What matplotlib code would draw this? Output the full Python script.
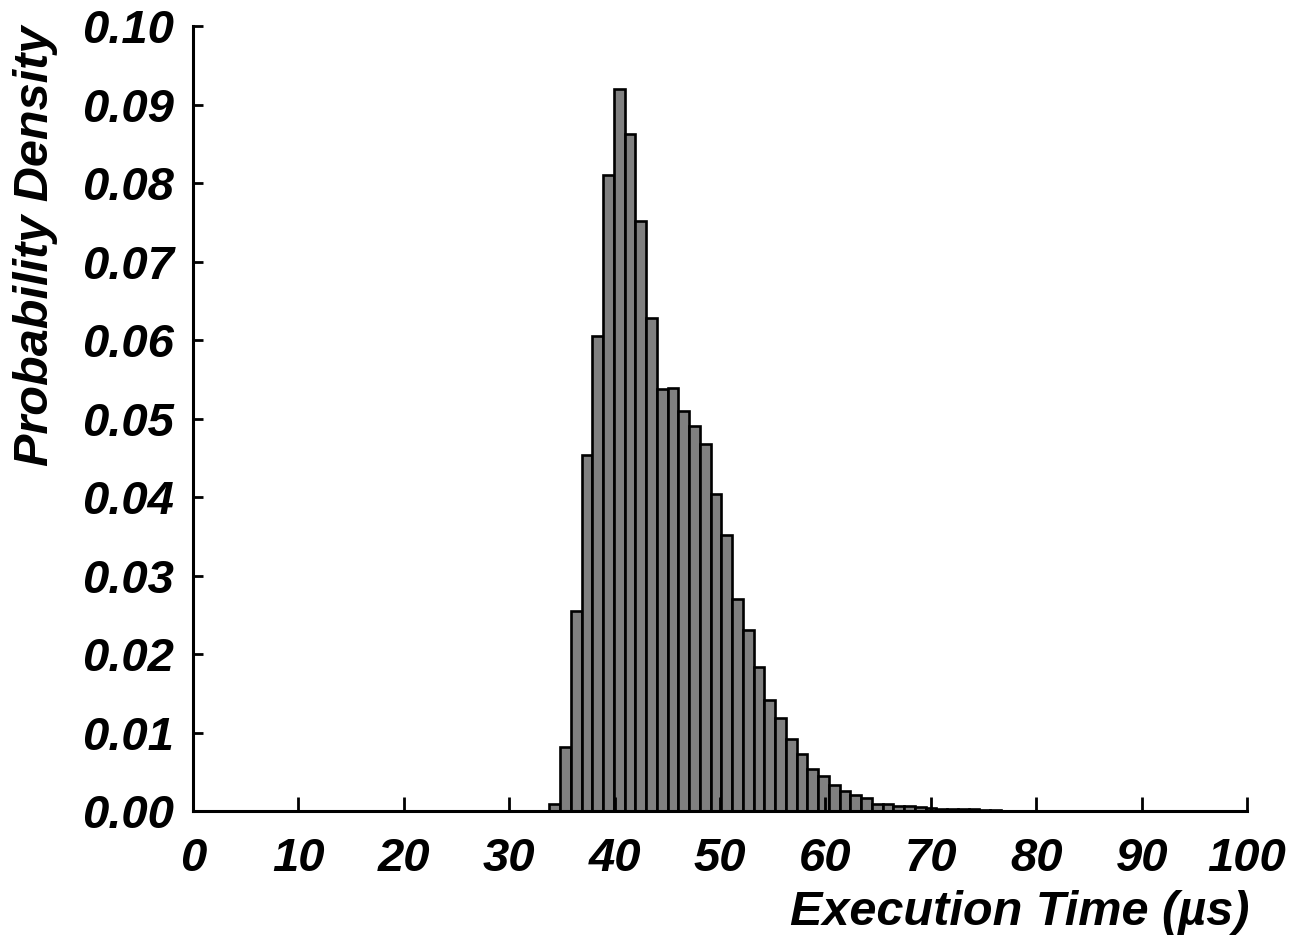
import matplotlib.pyplot as plt
import numpy as np

# histogram of execution times (bin width ~1 us)
bin_start = 33.8
bin_width = 1.02
density = [0.0009, 0.0082, 0.0255, 0.0453, 0.0605, 0.0810, 0.0920, 0.0862,
           0.0751, 0.0628, 0.0537, 0.0539, 0.0509, 0.0490, 0.0468, 0.0404,
           0.0352, 0.0270, 0.0231, 0.0184, 0.0142, 0.0119, 0.0092, 0.0073,
           0.0054, 0.0045, 0.0033, 0.0025, 0.0021, 0.0016, 0.0009, 0.0009,
           0.0007, 0.0006, 0.0005, 0.0004, 0.0003, 0.0003, 0.0002, 0.0002,
           0.0001, 0.0001]

x_ticks = list(range(0, 101, 10))
y_ticks = [0.00, 0.01, 0.02, 0.03, 0.04, 0.05, 0.06, 0.07, 0.08, 0.09, 0.10]

plt.rcParams['font.family'] = ['Liberation Sans', 'DejaVu Sans']
plt.rcParams['font.weight'] = 'bold'
plt.rcParams['font.style'] = 'italic'
plt.rcParams['axes.labelweight'] = 'bold'

fig = plt.figure(figsize=(12.97, 9.39), dpi=100)
ax = fig.add_axes([0.1488, 0.1363, 0.8127, 0.8360])

lefts = bin_start + bin_width * np.arange(len(density))
ax.bar(lefts, density, width=bin_width, align='edge',
       color='#808080', edgecolor='black', linewidth=1.9)

ax.set_xlim(0, 100)
ax.set_ylim(0, 0.10)
ax.set_xticks(x_ticks)
ax.set_yticks(y_ticks)
ax.set_xticklabels([str(t) for t in x_ticks])
ax.set_yticklabels(['%.2f' % t for t in y_ticks])

for s in ['top', 'right']:
    ax.spines[s].set_visible(False)
for s in ['left', 'bottom']:
    ax.spines[s].set_linewidth(2.2)

ax.tick_params(axis='x', direction='in', length=10, width=2, pad=19, labelsize=34)
ax.tick_params(axis='y', direction='in', length=7, width=2, pad=14, labelsize=34)

ax.set_xlabel('Execution Time (µs)', fontsize=35, fontweight='bold', loc='right')
ax.xaxis.set_label_coords(1.002, -0.101)
ax.set_ylabel('Probability Density', fontsize=35, fontweight='bold', loc='top')
ax.yaxis.set_label_coords(-0.128, 1.0)

fig.savefig('out.png', dpi=100)
